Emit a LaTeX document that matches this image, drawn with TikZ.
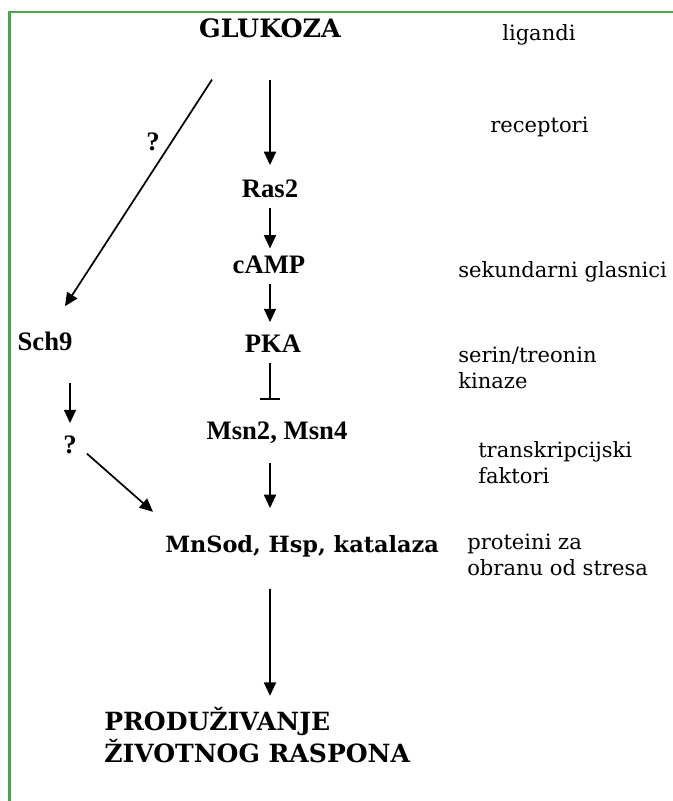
\documentclass[tikz,border=0pt]{standalone}
\usepackage{fontspec}
\setmainfont{Liberation Serif}
\newfontfamily\slab{DejaVu Serif}
\usetikzlibrary{arrows.meta,calc}
\definecolor{framegreen}{RGB}{72,168,72}
\begin{document}
\begin{tikzpicture}[x=0.75pt,y=-0.75pt,
  arr/.style={line width=1.3pt,-{Triangle[length=10pt,width=9pt]}},
  inh/.style={line width=1.3pt,-{Bar[width=15pt,line width=1.5pt]}},
  tb/.style={font=\fontsize{20}{24}\selectfont\bfseries,inner sep=0pt,anchor=base},
  sb/.style={font=\fontsize{16.8}{24}\selectfont\slab\bfseries,inner sep=0pt,anchor=base west,align=left},
  lab/.style={font=\fontsize{15.8}{19.5}\selectfont\slab,inner sep=0pt,anchor=base west,align=left}]
\useasboundingbox (0,0) rectangle (673,801);
\draw[framegreen,line width=1.9pt] (9.5,810) -- (9.5,12) -- (680,12);

% main column
\node[tb,font=\fontsize{19}{24}\selectfont\slab\bfseries] (glukoza) at (270,37) {GLUKOZA};
\node[tb] (ras2) at (270,197) {Ras2};
\node[tb] (camp) at (269,273) {cAMP};
\node[tb] (pka) at (273,352) {PKA};
\node[tb] (msn) at (277,439) {Msn2, Msn4};
\node[sb] (mnsod) at (165,552) {MnSod, Hsp, katalaza};
\node[sb,font=\fontsize{18.8}{24}\selectfont\slab\bfseries] (prod) at (104,762) {PRODUŽIVANJE\\ŽIVOTNOG RASPONA};

% left branch
\node[tb] (sch9) at (45,350) {Sch9};
\node[tb] (q1) at (153,150) {?};
\node[tb] (q2) at (70,453) {?};

% right labels
\node[lab] (l1) at (502,40) {ligandi};
\node[lab] (l2) at (490,132) {receptori};
\node[lab] (l3) at (458,277) {sekundarni glasnici};
\node[lab] (l4) at (458,388) {serin/treonin\\kinaze};
\node[lab] (l5) at (478,483) {transkripcijski\\faktori};
\node[lab] (l6) at (467,575) {proteini za\\obranu od stresa};

% connectors
\draw[arr,shorten <=31.5pt,shorten >=10.5pt] (glukoza.south -| ras2.north) -- (ras2.north);
\draw[arr,shorten <=7.5pt,shorten >=5pt] (ras2.south) -- (ras2.south |- camp.north);
\draw[arr,shorten <=7.5pt,shorten >=9pt] (camp.south -| ras2.south) -- (pka.north -| ras2.south);
\draw[inh,shorten <=8pt,shorten >=15.5pt] (pka.south -| ras2.south) -- (msn.north -| ras2.south);
\draw[arr,shorten <=15pt,shorten >=20pt] (msn.south -| ras2.south) -- (mnsod.north -| ras2.south);
\draw[arr,shorten <=24pt,shorten >=8pt] (mnsod.south -| ras2.south) -- (prod.north -| ras2.south);
\draw[arr] ($(glukoza.south)+(-58,42)$) -- ($(sch9.north)+(20,-25)$);
\draw[arr,shorten <=24pt,shorten >=9pt] (sch9.south -| q2.north) -- (q2.north);
\draw[arr] ($(q2.south east)+(10,0)$) -- ($(mnsod.west)+(-12,-34)$);
\end{tikzpicture}
\end{document}
